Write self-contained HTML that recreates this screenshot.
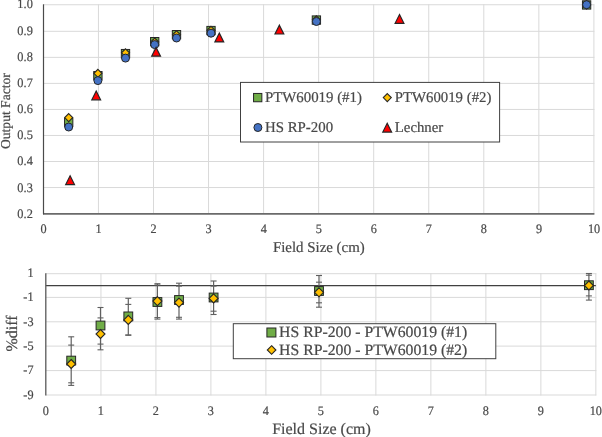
<!DOCTYPE html>
<html><head><meta charset="utf-8"><title>chart</title>
<style>
html,body{margin:0;padding:0;background:#fff;}
svg{display:block;will-change:transform;}
text{font-family:"Liberation Serif",serif;fill:#484848;text-rendering:geometricPrecision;stroke:#484848;stroke-width:0.2px;}
</style></head><body>
<svg width="602" height="437" viewBox="0 0 602 437">
<rect x="0" y="0" width="602" height="437" fill="#ffffff"/>
<line x1="98.45" y1="4.30" x2="98.45" y2="213.60" stroke="#d9d9d9" stroke-width="1"/>
<line x1="153.50" y1="4.30" x2="153.50" y2="213.60" stroke="#d9d9d9" stroke-width="1"/>
<line x1="208.55" y1="4.30" x2="208.55" y2="213.60" stroke="#d9d9d9" stroke-width="1"/>
<line x1="263.60" y1="4.30" x2="263.60" y2="213.60" stroke="#d9d9d9" stroke-width="1"/>
<line x1="318.65" y1="4.30" x2="318.65" y2="213.60" stroke="#d9d9d9" stroke-width="1"/>
<line x1="373.70" y1="4.30" x2="373.70" y2="213.60" stroke="#d9d9d9" stroke-width="1"/>
<line x1="428.75" y1="4.30" x2="428.75" y2="213.60" stroke="#d9d9d9" stroke-width="1"/>
<line x1="483.80" y1="4.30" x2="483.80" y2="213.60" stroke="#d9d9d9" stroke-width="1"/>
<line x1="538.85" y1="4.30" x2="538.85" y2="213.60" stroke="#d9d9d9" stroke-width="1"/>
<line x1="593.90" y1="4.30" x2="593.90" y2="213.60" stroke="#d9d9d9" stroke-width="1"/>
<line x1="43.40" y1="187.56" x2="594.40" y2="187.56" stroke="#d9d9d9" stroke-width="1"/>
<line x1="43.40" y1="161.52" x2="594.40" y2="161.52" stroke="#d9d9d9" stroke-width="1"/>
<line x1="43.40" y1="135.48" x2="594.40" y2="135.48" stroke="#d9d9d9" stroke-width="1"/>
<line x1="43.40" y1="109.44" x2="594.40" y2="109.44" stroke="#d9d9d9" stroke-width="1"/>
<line x1="43.40" y1="83.40" x2="594.40" y2="83.40" stroke="#d9d9d9" stroke-width="1"/>
<line x1="43.40" y1="57.36" x2="594.40" y2="57.36" stroke="#d9d9d9" stroke-width="1"/>
<line x1="43.40" y1="31.32" x2="594.40" y2="31.32" stroke="#d9d9d9" stroke-width="1"/>
<line x1="43.40" y1="4.75" x2="594.40" y2="4.75" stroke="#d9d9d9" stroke-width="1"/>
<line x1="43.00" y1="213.90" x2="594.40" y2="213.90" stroke="#6a6a6a" stroke-width="1.7"/>
<line x1="43.50" y1="4.30" x2="43.50" y2="214.30" stroke="#4a4a4a" stroke-width="1.2"/>
<text transform="translate(32.8,217.80) scale(0.95,1)" font-size="13" text-anchor="end">0.2</text>
<text transform="translate(32.8,191.62) scale(0.95,1)" font-size="13" text-anchor="end">0.3</text>
<text transform="translate(32.8,165.44) scale(0.95,1)" font-size="13" text-anchor="end">0.4</text>
<text transform="translate(32.8,139.26) scale(0.95,1)" font-size="13" text-anchor="end">0.5</text>
<text transform="translate(32.8,113.08) scale(0.95,1)" font-size="13" text-anchor="end">0.6</text>
<text transform="translate(32.8,86.90) scale(0.95,1)" font-size="13" text-anchor="end">0.7</text>
<text transform="translate(32.8,60.72) scale(0.95,1)" font-size="13" text-anchor="end">0.8</text>
<text transform="translate(32.8,34.54) scale(0.95,1)" font-size="13" text-anchor="end">0.9</text>
<text transform="translate(32.8,8.36) scale(0.95,1)" font-size="13" text-anchor="end">1.0</text>
<text transform="translate(43.50,232.8) scale(0.94,1)" font-size="13" text-anchor="middle">0</text>
<text transform="translate(98.55,232.8) scale(0.94,1)" font-size="13" text-anchor="middle">1</text>
<text transform="translate(153.60,232.8) scale(0.94,1)" font-size="13" text-anchor="middle">2</text>
<text transform="translate(208.65,232.8) scale(0.94,1)" font-size="13" text-anchor="middle">3</text>
<text transform="translate(263.70,232.8) scale(0.94,1)" font-size="13" text-anchor="middle">4</text>
<text transform="translate(318.75,232.8) scale(0.94,1)" font-size="13" text-anchor="middle">5</text>
<text transform="translate(373.80,232.8) scale(0.94,1)" font-size="13" text-anchor="middle">6</text>
<text transform="translate(428.85,232.8) scale(0.94,1)" font-size="13" text-anchor="middle">7</text>
<text transform="translate(483.90,232.8) scale(0.94,1)" font-size="13" text-anchor="middle">8</text>
<text transform="translate(538.95,232.8) scale(0.94,1)" font-size="13" text-anchor="middle">9</text>
<text transform="translate(594.00,232.8) scale(0.94,1)" font-size="13" text-anchor="middle">10</text>
<text transform="translate(10.2,111.1) rotate(-90)" font-size="13.6" text-anchor="middle">Output Factor</text>
<text x="318.8" y="252.1" font-size="14.9" text-anchor="middle">Field Size (cm)</text>
<rect x="64.55" y="118.15" width="8.30" height="8.30" fill="#70ad47" stroke="#262626" stroke-width="1"/>
<rect x="93.75" y="71.55" width="8.30" height="8.30" fill="#70ad47" stroke="#262626" stroke-width="1"/>
<rect x="121.35" y="49.45" width="8.30" height="8.30" fill="#70ad47" stroke="#262626" stroke-width="1"/>
<rect x="150.55" y="37.50" width="8.30" height="8.30" fill="#70ad47" stroke="#262626" stroke-width="1"/>
<rect x="172.35" y="30.50" width="8.30" height="8.30" fill="#70ad47" stroke="#262626" stroke-width="1"/>
<rect x="206.85" y="26.40" width="8.30" height="8.30" fill="#70ad47" stroke="#262626" stroke-width="1"/>
<rect x="312.25" y="15.90" width="8.30" height="8.30" fill="#70ad47" stroke="#262626" stroke-width="1"/>
<rect x="582.45" y="0.80" width="8.30" height="8.30" fill="#70ad47" stroke="#262626" stroke-width="1"/>
<path d="M68.70 113.60 L72.70 117.60 L68.70 121.60 L64.70 117.60Z" fill="#ffc000" stroke="#262626" stroke-width="1.1"/>
<path d="M97.90 69.30 L101.90 73.30 L97.90 77.30 L93.90 73.30Z" fill="#ffc000" stroke="#262626" stroke-width="1.1"/>
<path d="M125.50 48.80 L129.50 52.80 L125.50 56.80 L121.50 52.80Z" fill="#ffc000" stroke="#262626" stroke-width="1.1"/>
<path d="M154.70 38.00 L158.70 42.00 L154.70 46.00 L150.70 42.00Z" fill="#ffc000" stroke="#262626" stroke-width="1.1"/>
<path d="M176.50 30.80 L180.50 34.80 L176.50 38.80 L172.50 34.80Z" fill="#ffc000" stroke="#262626" stroke-width="1.1"/>
<path d="M211.00 26.30 L215.00 30.30 L211.00 34.30 L207.00 30.30Z" fill="#ffc000" stroke="#262626" stroke-width="1.1"/>
<path d="M316.40 15.80 L320.40 19.80 L316.40 23.80 L312.40 19.80Z" fill="#ffc000" stroke="#262626" stroke-width="1.1"/>
<path d="M586.60 0.90 L590.60 4.90 L586.60 8.90 L582.60 4.90Z" fill="#ffc000" stroke="#262626" stroke-width="1.1"/>
<circle cx="68.70" cy="127.00" r="4.00" fill="#4472c4" stroke="#262626" stroke-width="1"/>
<circle cx="97.90" cy="80.60" r="4.00" fill="#4472c4" stroke="#262626" stroke-width="1"/>
<circle cx="125.50" cy="58.10" r="4.00" fill="#4472c4" stroke="#262626" stroke-width="1"/>
<circle cx="154.70" cy="44.60" r="4.00" fill="#4472c4" stroke="#262626" stroke-width="1"/>
<circle cx="176.50" cy="38.00" r="4.00" fill="#4472c4" stroke="#262626" stroke-width="1"/>
<circle cx="211.00" cy="33.20" r="4.00" fill="#4472c4" stroke="#262626" stroke-width="1"/>
<circle cx="316.40" cy="21.50" r="4.00" fill="#4472c4" stroke="#262626" stroke-width="1"/>
<circle cx="586.60" cy="4.70" r="4.00" fill="#4472c4" stroke="#262626" stroke-width="1"/>
<path d="M70.10 175.80 L74.50 184.60 L65.70 184.60Z" fill="#ff0000" stroke="#262626" stroke-width="1.2"/>
<path d="M96.20 91.00 L100.60 99.80 L91.80 99.80Z" fill="#ff0000" stroke="#262626" stroke-width="1.2"/>
<path d="M156.10 47.40 L160.50 56.20 L151.70 56.20Z" fill="#ff0000" stroke="#262626" stroke-width="1.2"/>
<path d="M219.30 33.10 L223.70 41.90 L214.90 41.90Z" fill="#ff0000" stroke="#262626" stroke-width="1.2"/>
<path d="M279.40 25.20 L283.80 34.00 L275.00 34.00Z" fill="#ff0000" stroke="#262626" stroke-width="1.2"/>
<path d="M399.50 14.50 L403.90 23.30 L395.10 23.30Z" fill="#ff0000" stroke="#262626" stroke-width="1.2"/>
<rect x="240.5" y="82.4" width="259.1" height="59.6" fill="#ffffff" stroke="#404040" stroke-width="1"/>
<rect x="253.55" y="93.45" width="8.30" height="8.30" fill="#70ad47" stroke="#262626" stroke-width="1"/>
<text x="265.0" y="102" font-size="14.85">PTW60019 (#1)</text>
<path d="M387.30 93.60 L391.30 97.60 L387.30 101.60 L383.30 97.60Z" fill="#ffc000" stroke="#262626" stroke-width="1.1"/>
<text x="394.8" y="102" font-size="14.8">PTW60019 (#2)</text>
<circle cx="257.90" cy="127.50" r="4.00" fill="#4472c4" stroke="#262626" stroke-width="1"/>
<text x="265.0" y="132.3" font-size="14.85">HS RP-200</text>
<path d="M387.20 123.30 L391.60 132.10 L382.80 132.10Z" fill="#ff0000" stroke="#262626" stroke-width="1.2"/>
<text x="394.8" y="132.3" font-size="14.8">Lechner</text>
<line x1="100.94" y1="273.20" x2="100.94" y2="395.50" stroke="#d9d9d9" stroke-width="1"/>
<line x1="155.93" y1="273.20" x2="155.93" y2="395.50" stroke="#d9d9d9" stroke-width="1"/>
<line x1="210.92" y1="273.20" x2="210.92" y2="395.50" stroke="#d9d9d9" stroke-width="1"/>
<line x1="265.91" y1="273.20" x2="265.91" y2="395.50" stroke="#d9d9d9" stroke-width="1"/>
<line x1="320.90" y1="273.20" x2="320.90" y2="395.50" stroke="#d9d9d9" stroke-width="1"/>
<line x1="375.89" y1="273.20" x2="375.89" y2="395.50" stroke="#d9d9d9" stroke-width="1"/>
<line x1="430.88" y1="273.20" x2="430.88" y2="395.50" stroke="#d9d9d9" stroke-width="1"/>
<line x1="485.87" y1="273.20" x2="485.87" y2="395.50" stroke="#d9d9d9" stroke-width="1"/>
<line x1="540.86" y1="273.20" x2="540.86" y2="395.50" stroke="#d9d9d9" stroke-width="1"/>
<line x1="595.85" y1="273.20" x2="595.85" y2="395.50" stroke="#d9d9d9" stroke-width="1"/>
<line x1="45.80" y1="273.70" x2="596.35" y2="273.70" stroke="#d9d9d9" stroke-width="1"/>
<line x1="45.80" y1="297.40" x2="596.35" y2="297.40" stroke="#d9d9d9" stroke-width="1"/>
<line x1="45.80" y1="321.80" x2="596.35" y2="321.80" stroke="#d9d9d9" stroke-width="1"/>
<line x1="45.80" y1="346.10" x2="596.35" y2="346.10" stroke="#d9d9d9" stroke-width="1"/>
<line x1="45.80" y1="370.60" x2="596.35" y2="370.60" stroke="#d9d9d9" stroke-width="1"/>
<line x1="45.80" y1="395.00" x2="596.35" y2="395.00" stroke="#d9d9d9" stroke-width="1"/>
<line x1="45.80" y1="285.60" x2="595.85" y2="285.60" stroke="#404040" stroke-width="1.1"/>
<line x1="45.80" y1="273.20" x2="45.80" y2="395.50" stroke="#595959" stroke-width="1.3"/>
<text transform="translate(33.5,277.00) scale(0.94,1)" font-size="13" text-anchor="end">1</text>
<text transform="translate(33.5,301.35) scale(0.94,1)" font-size="13" text-anchor="end">-1</text>
<text transform="translate(33.5,325.70) scale(0.94,1)" font-size="13" text-anchor="end">-3</text>
<text transform="translate(33.5,350.05) scale(0.94,1)" font-size="13" text-anchor="end">-5</text>
<text transform="translate(33.5,374.40) scale(0.94,1)" font-size="13" text-anchor="end">-7</text>
<text transform="translate(33.5,398.75) scale(0.94,1)" font-size="13" text-anchor="end">-9</text>
<text transform="translate(45.80,414.7) scale(0.94,1)" font-size="13" text-anchor="middle">0</text>
<text transform="translate(100.80,414.7) scale(0.94,1)" font-size="13" text-anchor="middle">1</text>
<text transform="translate(155.80,414.7) scale(0.94,1)" font-size="13" text-anchor="middle">2</text>
<text transform="translate(210.80,414.7) scale(0.94,1)" font-size="13" text-anchor="middle">3</text>
<text transform="translate(265.80,414.7) scale(0.94,1)" font-size="13" text-anchor="middle">4</text>
<text transform="translate(320.80,414.7) scale(0.94,1)" font-size="13" text-anchor="middle">5</text>
<text transform="translate(375.80,414.7) scale(0.94,1)" font-size="13" text-anchor="middle">6</text>
<text transform="translate(430.80,414.7) scale(0.94,1)" font-size="13" text-anchor="middle">7</text>
<text transform="translate(485.80,414.7) scale(0.94,1)" font-size="13" text-anchor="middle">8</text>
<text transform="translate(540.80,414.7) scale(0.94,1)" font-size="13" text-anchor="middle">9</text>
<text transform="translate(595.80,414.7) scale(0.94,1)" font-size="13" text-anchor="middle">10</text>
<text transform="translate(16.6,333.5) rotate(-90)" font-size="16" text-anchor="middle">%diff</text>
<text x="321.5" y="433.6" font-size="16" text-anchor="middle">Field Size (cm)</text>
<line x1="71.20" y1="336.80" x2="71.20" y2="385.40" stroke="#606060" stroke-width="1.2"/>
<line x1="68.20" y1="336.80" x2="74.20" y2="336.80" stroke="#606060" stroke-width="1.1"/>
<line x1="68.20" y1="345.10" x2="74.20" y2="345.10" stroke="#606060" stroke-width="1.1"/>
<line x1="68.20" y1="382.80" x2="74.20" y2="382.80" stroke="#606060" stroke-width="1.1"/>
<line x1="68.20" y1="385.40" x2="74.20" y2="385.40" stroke="#606060" stroke-width="1.1"/>
<line x1="100.50" y1="307.50" x2="100.50" y2="349.80" stroke="#606060" stroke-width="1.2"/>
<line x1="97.50" y1="307.50" x2="103.50" y2="307.50" stroke="#606060" stroke-width="1.1"/>
<line x1="97.50" y1="317.90" x2="103.50" y2="317.90" stroke="#606060" stroke-width="1.1"/>
<line x1="97.50" y1="344.10" x2="103.50" y2="344.10" stroke="#606060" stroke-width="1.1"/>
<line x1="97.50" y1="349.80" x2="103.50" y2="349.80" stroke="#606060" stroke-width="1.1"/>
<line x1="128.30" y1="298.30" x2="128.30" y2="335.30" stroke="#606060" stroke-width="1.2"/>
<line x1="125.30" y1="298.30" x2="131.30" y2="298.30" stroke="#606060" stroke-width="1.1"/>
<line x1="125.30" y1="304.40" x2="131.30" y2="304.40" stroke="#606060" stroke-width="1.1"/>
<line x1="125.30" y1="334.90" x2="131.30" y2="334.90" stroke="#606060" stroke-width="1.1"/>
<line x1="125.30" y1="335.30" x2="131.30" y2="335.30" stroke="#606060" stroke-width="1.1"/>
<line x1="157.40" y1="283.70" x2="157.40" y2="319.10" stroke="#606060" stroke-width="1.2"/>
<line x1="154.40" y1="283.70" x2="160.40" y2="283.70" stroke="#606060" stroke-width="1.1"/>
<line x1="154.40" y1="285.00" x2="160.40" y2="285.00" stroke="#606060" stroke-width="1.1"/>
<line x1="154.40" y1="317.60" x2="160.40" y2="317.60" stroke="#606060" stroke-width="1.1"/>
<line x1="154.40" y1="319.10" x2="160.40" y2="319.10" stroke="#606060" stroke-width="1.1"/>
<line x1="179.00" y1="283.20" x2="179.00" y2="319.10" stroke="#606060" stroke-width="1.2"/>
<line x1="176.00" y1="283.20" x2="182.00" y2="283.20" stroke="#606060" stroke-width="1.1"/>
<line x1="176.00" y1="286.10" x2="182.00" y2="286.10" stroke="#606060" stroke-width="1.1"/>
<line x1="176.00" y1="317.30" x2="182.00" y2="317.30" stroke="#606060" stroke-width="1.1"/>
<line x1="176.00" y1="319.10" x2="182.00" y2="319.10" stroke="#606060" stroke-width="1.1"/>
<line x1="213.60" y1="281.00" x2="213.60" y2="314.50" stroke="#606060" stroke-width="1.2"/>
<line x1="210.60" y1="281.00" x2="216.60" y2="281.00" stroke="#606060" stroke-width="1.1"/>
<line x1="210.60" y1="286.10" x2="216.60" y2="286.10" stroke="#606060" stroke-width="1.1"/>
<line x1="210.60" y1="311.20" x2="216.60" y2="311.20" stroke="#606060" stroke-width="1.1"/>
<line x1="210.60" y1="314.50" x2="216.60" y2="314.50" stroke="#606060" stroke-width="1.1"/>
<line x1="319.00" y1="275.50" x2="319.00" y2="307.20" stroke="#606060" stroke-width="1.2"/>
<line x1="316.00" y1="275.50" x2="322.00" y2="275.50" stroke="#606060" stroke-width="1.1"/>
<line x1="316.00" y1="282.20" x2="322.00" y2="282.20" stroke="#606060" stroke-width="1.1"/>
<line x1="316.00" y1="302.80" x2="322.00" y2="302.80" stroke="#606060" stroke-width="1.1"/>
<line x1="316.00" y1="307.20" x2="322.00" y2="307.20" stroke="#606060" stroke-width="1.1"/>
<line x1="588.90" y1="273.50" x2="588.90" y2="300.10" stroke="#606060" stroke-width="1.2"/>
<line x1="585.90" y1="273.50" x2="591.90" y2="273.50" stroke="#606060" stroke-width="1.1"/>
<line x1="585.90" y1="275.20" x2="591.90" y2="275.20" stroke="#606060" stroke-width="1.1"/>
<line x1="585.90" y1="295.90" x2="591.90" y2="295.90" stroke="#606060" stroke-width="1.1"/>
<line x1="585.90" y1="300.10" x2="591.90" y2="300.10" stroke="#606060" stroke-width="1.1"/>
<rect x="66.80" y="356.20" width="8.80" height="8.80" fill="#70ad47" stroke="#262626" stroke-width="1"/>
<rect x="96.10" y="321.10" width="8.80" height="8.80" fill="#70ad47" stroke="#262626" stroke-width="1"/>
<rect x="123.90" y="312.00" width="8.80" height="8.80" fill="#70ad47" stroke="#262626" stroke-width="1"/>
<rect x="153.00" y="297.60" width="8.80" height="8.80" fill="#70ad47" stroke="#262626" stroke-width="1"/>
<rect x="174.60" y="295.60" width="8.80" height="8.80" fill="#70ad47" stroke="#262626" stroke-width="1"/>
<rect x="209.20" y="293.10" width="8.80" height="8.80" fill="#70ad47" stroke="#262626" stroke-width="1"/>
<rect x="314.60" y="286.60" width="8.80" height="8.80" fill="#70ad47" stroke="#262626" stroke-width="1"/>
<rect x="584.50" y="280.80" width="8.80" height="8.80" fill="#70ad47" stroke="#262626" stroke-width="1"/>
<path d="M71.20 359.50 L75.70 364.00 L71.20 368.50 L66.70 364.00Z" fill="#ffc000" stroke="#262626" stroke-width="1.1"/>
<path d="M100.50 329.50 L105.00 334.00 L100.50 338.50 L96.00 334.00Z" fill="#ffc000" stroke="#262626" stroke-width="1.1"/>
<path d="M128.30 315.40 L132.80 319.90 L128.30 324.40 L123.80 319.90Z" fill="#ffc000" stroke="#262626" stroke-width="1.1"/>
<path d="M157.40 296.60 L161.90 301.10 L157.40 305.60 L152.90 301.10Z" fill="#ffc000" stroke="#262626" stroke-width="1.1"/>
<path d="M179.00 298.10 L183.50 302.60 L179.00 307.10 L174.50 302.60Z" fill="#ffc000" stroke="#262626" stroke-width="1.1"/>
<path d="M213.60 293.90 L218.10 298.40 L213.60 302.90 L209.10 298.40Z" fill="#ffc000" stroke="#262626" stroke-width="1.1"/>
<path d="M319.00 287.80 L323.50 292.30 L319.00 296.80 L314.50 292.30Z" fill="#ffc000" stroke="#262626" stroke-width="1.1"/>
<path d="M588.90 281.00 L593.40 285.50 L588.90 290.00 L584.40 285.50Z" fill="#ffc000" stroke="#262626" stroke-width="1.1"/>
<rect x="233.3" y="323.7" width="262.5" height="35" fill="#ffffff" stroke="#404040" stroke-width="1"/>
<rect x="266.90" y="328.00" width="9.00" height="9.00" fill="#70ad47" stroke="#262626" stroke-width="1"/>
<text x="279.1" y="337.2" font-size="15.75">HS RP-200 - PTW60019 (#1)</text>
<path d="M271.60 345.70 L275.90 350.00 L271.60 354.30 L267.30 350.00Z" fill="#ffc000" stroke="#262626" stroke-width="1.1"/>
<text x="279.1" y="354.6" font-size="15.75">HS RP-200 - PTW60019 (#2)</text>
</svg>
</body></html>
